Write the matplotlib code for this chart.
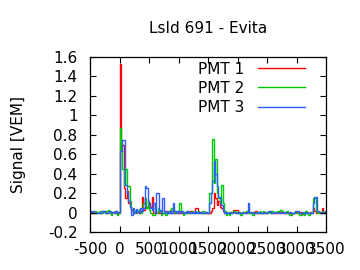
import numpy as np
import matplotlib
matplotlib.use("Agg")
import matplotlib.pyplot as plt

title = "LsId 691 - Evita"
ylabel = "Signal [VEM]"
series_names = ["PMT 1", "PMT 2", "PMT 3"]
t_start = -500.0
bin_width = 25.0

pmt1 = [
    0.00, 0.00, 0.01, 0.00, 0.00, 0.01, 0.00, 0.00, 0.01, 0.02, 0.02, 0.00, 0.01, 0.00, 0.00, 0.01, 0.00, 0.00, 0.01, 0.00,
    1.53, 0.72, 0.70, 0.25, 0.15, 0.22, 0.10, 0.07, 0.03, 0.00, 0.02, 0.00, 0.01, 0.00, 0.02, 0.16, 0.03, 0.05, 0.06, 0.05,
    0.10, 0.06, 0.16, 0.00, 0.01, 0.00, 0.02, 0.00, 0.01, 0.00, 0.00, 0.02, 0.01, 0.00, 0.03, 0.00, 0.02, 0.00, 0.01, 0.00,
    0.00, 0.02, 0.00, 0.01, 0.00, 0.00, 0.01, 0.00, 0.02, 0.00, 0.01, 0.05, 0.05, 0.00, 0.01, 0.00, 0.00, 0.01, 0.00, 0.00,
    0.00, 0.00, 0.02, 0.05, 0.20, 0.15, 0.08, 0.12, 0.06, 0.05, 0.02, 0.00, 0.01, 0.00, 0.00, 0.01, 0.00, 0.03, 0.03, 0.03,
    0.00, 0.01, 0.00, 0.00, 0.01, 0.00, 0.00, 0.01, 0.00, 0.00, 0.01, 0.00, 0.02, 0.00, 0.00, 0.01, 0.00, 0.00, 0.01, 0.00,
    0.00, 0.01, 0.00, 0.00, 0.01, 0.00, 0.00, 0.01, 0.00, 0.01, 0.01, 0.00, 0.00, 0.01, 0.00, 0.00, -0.01, 0.00, 0.00, 0.01,
    0.00, 0.00, 0.01, -0.01, -0.01, 0.00, 0.01, 0.00, 0.00, 0.01, 0.00, 0.05, 0.02, 0.00, 0.01, 0.00, 0.01, 0.05, 0.01, 0.00,
]
pmt2 = [
    0.01, 0.00, 0.00, 0.02, 0.00, 0.01, 0.00, 0.02, 0.00, 0.01, 0.00, 0.02, 0.03, 0.00, -0.02, 0.01, 0.00, 0.02, -0.02, 0.00,
    0.87, 0.64, 0.45, 0.28, 0.45, 0.27, 0.27, 0.12, 0.04, 0.00, 0.02, 0.00, 0.02, 0.04, 0.00, 0.03, 0.10, 0.15, 0.05, 0.11,
    0.03, 0.00, -0.03, -0.03, 0.02, 0.00, 0.05, 0.02, -0.02, 0.00, 0.02, -0.02, 0.00, 0.02, 0.00, 0.05, 0.00, 0.02, 0.00, 0.02,
    0.10, 0.10, 0.01, -0.02, 0.00, 0.02, 0.00, 0.01, 0.00, 0.02, 0.00, 0.00, 0.01, 0.02, 0.00, 0.00, 0.02, 0.00, 0.01, 0.00,
    0.00, 0.20, 0.20, 0.76, 0.30, 0.55, 0.20, 0.15, 0.10, 0.28, 0.10, 0.02, -0.02, 0.00, -0.02, 0.01, 0.00, 0.02, 0.00, 0.01,
    0.00, 0.01, -0.02, 0.00, 0.01, 0.00, 0.02, 0.00, 0.00, 0.01, -0.02, 0.00, 0.01, 0.00, 0.00, 0.02, 0.00, 0.02, 0.00, 0.01,
    0.00, 0.01, 0.00, 0.02, 0.00, 0.01, 0.00, 0.02, 0.02, 0.03, 0.02, 0.00, 0.00, 0.02, 0.00, -0.03, -0.03, 0.00, 0.01, 0.00,
    0.00, 0.01, -0.03, -0.03, 0.00, -0.03, 0.02, 0.00, -0.02, 0.00, 0.01, 0.15, 0.15, 0.02, 0.00, 0.01, 0.00, 0.02, 0.00, 0.01,
]
pmt3 = [
    0.00, 0.02, 0.02, 0.00, 0.00, 0.00, 0.01, 0.00, 0.02, 0.02, 0.00, 0.00, 0.01, 0.02, 0.00, 0.01, 0.00, 0.02, 0.00, 0.01,
    0.63, 0.63, 0.75, 0.75, 0.28, 0.20, 0.12, 0.06, -0.02, 0.05, 0.00, 0.04, 0.02, 0.00, 0.05, 0.02, 0.05, 0.27, 0.25, 0.12,
    0.08, 0.05, 0.03, 0.10, 0.00, 0.20, 0.20, 0.03, 0.00, 0.15, 0.02, 0.00, 0.02, 0.00, 0.02, 0.00, 0.10, 0.02, 0.00, 0.02,
    0.00, 0.01, 0.02, 0.00, 0.01, 0.00, 0.02, 0.00, 0.00, 0.01, 0.00, 0.02, 0.00, 0.01, 0.00, 0.01, 0.00, 0.00, 0.01, 0.00,
    0.00, 0.10, 0.20, 0.32, 0.53, 0.40, 0.27, 0.16, 0.16, 0.08, 0.03, 0.00, 0.01, 0.00, 0.01, 0.00, 0.00, 0.01, 0.00, 0.00,
    0.01, 0.00, 0.00, 0.01, 0.00, 0.00, 0.01, 0.10, 0.01, 0.00, 0.00, 0.01, 0.00, 0.00, 0.01, 0.00, 0.00, 0.01, 0.00, 0.00,
    0.00, 0.02, 0.02, 0.00, 0.00, 0.01, 0.00, 0.00, 0.01, 0.00, 0.00, 0.01, 0.00, 0.00, 0.00, 0.01, 0.00, 0.00, 0.00, 0.02,
    0.02, 0.02, 0.00, 0.00, 0.01, 0.00, 0.00, 0.01, 0.00, 0.00, 0.00, 0.10, 0.16, 0.16, 0.02, 0.01, 0.00, 0.01, 0.00, 0.02,
]
colors = ["#ff0000", "#00c800", "#2d5dff"]

x_ticks = [-500, 0, 500, 1000, 1500, 2000, 2500, 3000, 3500]
y_ticks = [-0.2, 0, 0.2, 0.4, 0.6, 0.8, 1, 1.2, 1.4, 1.6]
y_tick_labels = ["-0.2", "0", "0.2", "0.4", "0.6", "0.8", "1", "1.2", "1.4", "1.6"]

FS = 11
plt.rcParams['font.family'] = ['DejaVu Sans']
fig = plt.figure(figsize=(3.6, 2.7), dpi=100)
ax = fig.add_axes([90/360, 1 - 232/270, (326-90)/360, (232-57)/270])

for vals, name, c in zip([pmt1, pmt2, pmt3], series_names, colors):
    v = np.asarray(vals)
    edges = t_start + bin_width * np.arange(len(v) + 1)
    ax.stairs(v, edges, color=c, lw=1.0, label=name, baseline=None)

ax.set_xlim(-500, 3500)
ax.set_ylim(-0.2, 1.6)
ax.set_xticks(x_ticks)
ax.set_xticklabels([str(t) for t in x_ticks])
ax.set_yticks(y_ticks)
ax.set_yticklabels(y_tick_labels)
ax.tick_params(direction='in', length=4, width=0.8, top=True, right=True,
               labelsize=FS)
ax.tick_params(axis='y', pad=9)
ax.tick_params(axis='x', pad=7)
for s in ax.spines.values():
    s.set_linewidth(0.9)
ax.set_title(title, fontsize=FS, pad=17)
ax.set_ylabel(ylabel, fontsize=FS, labelpad=16)
leg = ax.legend(loc='upper right', bbox_to_anchor=(0.911, 0.974),
                frameon=False, markerfirst=False, fontsize=FS,
                handlelength=3.07, labelspacing=0.28, borderpad=0,
                borderaxespad=0, handletextpad=0.9)
for t in leg.get_texts():
    t.set_ha('right')

fig.savefig("out.png", dpi=100)
